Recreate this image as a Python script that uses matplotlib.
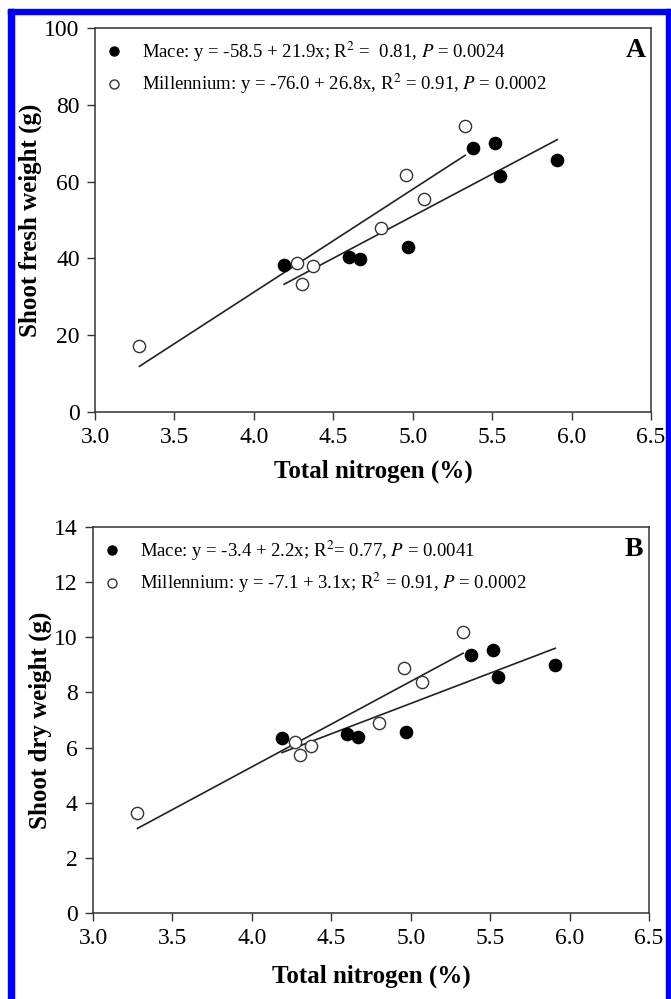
import matplotlib
matplotlib.use("Agg")
import matplotlib.pyplot as plt
from matplotlib.patches import Rectangle
from matplotlib.lines import Line2D
import numpy as np

plt.rcParams['font.family'] = ['Liberation Serif', 'DejaVu Serif']
plt.rcParams['mathtext.fontset'] = 'stix'

# ---- data ----
mace_n = [4.19, 4.60, 4.67, 4.97, 5.38, 5.52, 5.55, 5.91]
mill_n = [3.28, 4.27, 4.30, 4.37, 4.80, 4.96, 5.07, 5.33]

mace_fresh = [38.2, 40.4, 39.8, 43.0, 68.7, 70.1, 61.4, 65.6]
mill_fresh = [17.1, 38.7, 33.4, 38.0, 47.9, 61.6, 55.4, 74.5]

mace_dry = [6.35, 6.50, 6.40, 6.58, 9.35, 9.55, 8.55, 9.00]
mill_dry = [3.62, 6.22, 5.73, 6.05, 6.90, 8.90, 8.38, 10.18]

# regression coefficients (intercept, slope)
mace_fresh_fit = (-58.5, 21.9)
mill_fresh_fit = (-76.0, 26.8)
mace_dry_fit = (-3.4, 2.2)
mill_dry_fit = (-7.1, 3.1)

x_ticks = [3.0, 3.5, 4.0, 4.5, 5.0, 5.5, 6.0, 6.5]
fresh_ticks = [0, 20, 40, 60, 80, 100]
dry_ticks = [0, 2, 4, 6, 8, 10, 12, 14]

legA = ["Mace: y = -58.5 + 21.9x; R$^{2}$ =  0.81, $P$ = 0.0024",
        "Millennium: y = -76.0 + 26.8x, R$^{2}$ = 0.91, $P$ = 0.0002"]
legB = ["Mace: y = -3.4 + 2.2x; R$^2$= 0.77, $P$ = 0.0041",
        "Millennium: y = -7.1 + 3.1x; R$^2$ = 0.91, $P$ = 0.0002"]

W, H = 671, 999
fig = plt.figure(figsize=(W / 100, H / 100), dpi=100)

# blue frame
blue = '#0000ff'
fig.patches.append(Rectangle((8 / W, 0), 6 / W, 1 - 9 / H, transform=fig.transFigure,
                             color=blue, zorder=0))
fig.patches.append(Rectangle((8 / W, 1 - 14 / H), 1 - 8 / W, 5 / H, transform=fig.transFigure,
                             color=blue, zorder=0))
fig.patches.append(Rectangle((666 / W, 0), 5 / W, 1 - 9 / H, transform=fig.transFigure,
                             color=blue, zorder=0))


def panel(rect, mx, my, ox, oy, mfit, ofit, yticks, ylim, ylabel, leg, letter, legsize, xpad):
    ax = fig.add_axes(rect)
    xs = np.array([min(mx), max(mx)])
    ax.plot(xs, mfit[0] + mfit[1] * xs, color='#222222', lw=1.2, zorder=2)
    xs2 = np.array([min(ox), max(ox)])
    ax.plot(xs2, ofit[0] + ofit[1] * xs2, color='#222222', lw=1.2, zorder=2)
    ax.plot(mx, my, 'o', ms=8.8, mfc='black', mec='black', ls='none', zorder=3)
    ax.plot(ox, oy, 'o', ms=8.8, mfc='white', mec='#333333', mew=1.0, ls='none', zorder=3)
    ax.set_xlim(3.0, 6.5)
    ax.set_ylim(*ylim)
    ax.set_xticks(x_ticks)
    ax.set_xticklabels([f"{v:.1f}" for v in x_ticks])
    ax.set_yticks(yticks)
    ax.tick_params(direction='out', length=6, width=1, labelsize=17, pad=5,
                   top=False, right=False, color='#333333')
    for s in ax.spines.values():
        s.set_linewidth(1.1)
        s.set_color('#333333')
    ax.set_xlabel("Total nitrogen (%)", fontsize=18, fontweight='bold', labelpad=xpad)
    ax.set_ylabel(ylabel, fontsize=18, fontweight='bold', labelpad=1.5)
    handles = [Line2D([], [], marker='o', ls='none', ms=6.5, mfc='black', mec='black'),
               Line2D([], [], marker='o', ls='none', ms=6.5, mfc='white', mec='#333333')]
    ax.legend(handles, leg, loc='upper left', frameon=False, fontsize=legsize,
              handletextpad=1.1, borderaxespad=0.2, labelspacing=0.45, handlelength=0.8,
              borderpad=0.4)
    ax.text(0.99, 0.975, letter, transform=ax.transAxes, ha='right', va='top',
            fontsize=20, fontweight='bold')
    return ax


panel([95 / W, 1 - 412 / H, 556 / W, 384 / H], mace_n, mace_fresh, mill_n, mill_fresh,
      mace_fresh_fit, mill_fresh_fit, fresh_ticks, (0, 100), "Shoot fresh weight (g)", legA, "A",
      13.5, 8)
panel([93 / W, 1 - 913 / H, 556 / W, 386 / H], mace_n, mace_dry, mill_n, mill_dry,
      mace_dry_fit, mill_dry_fit, dry_ticks, (0, 14), "Shoot dry weight (g)", legB, "B",
      13.5, 11)

fig.savefig("out.png", dpi=100)
